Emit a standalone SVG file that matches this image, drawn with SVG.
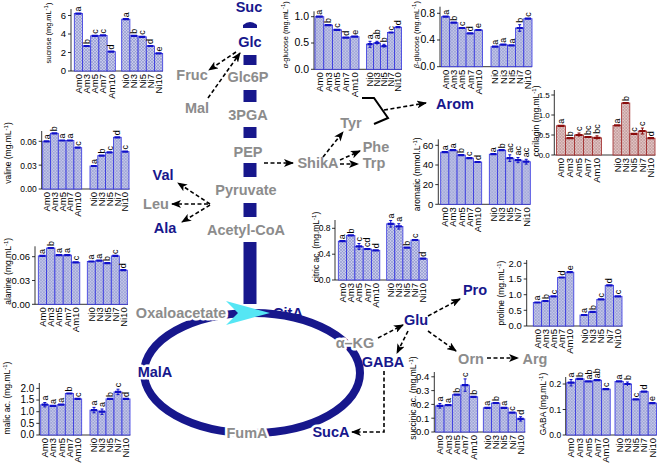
<svg xmlns="http://www.w3.org/2000/svg" width="660" height="464" viewBox="0 0 660 464">
<defs>
<pattern id="hb" width="3" height="3" patternUnits="userSpaceOnUse"><rect width="3" height="3" fill="#c6c9e9"/><path d="M0,0L3,3M3,0L0,3" stroke="#8088c8" stroke-width="0.5"/></pattern>
<pattern id="hr" width="3" height="3" patternUnits="userSpaceOnUse"><rect width="3" height="3" fill="#e2c6c6"/><path d="M0,0L3,3M3,0L0,3" stroke="#b08080" stroke-width="0.5"/></pattern>
<marker id="ah" viewBox="0 0 10 8" refX="9" refY="4" markerWidth="10" markerHeight="8" markerUnits="userSpaceOnUse" orient="auto"><path d="M0,0L10,4L0,8L2.5,4z" fill="#000"/></marker>
</defs>
<style>
text{font-family:"Liberation Sans",Arial,sans-serif}
.ax{stroke:#000;stroke-width:0.8;fill:none}
.bar{fill:url(#hb);stroke:#3434e0;stroke-width:0.8}
.rbar{fill:url(#hr);stroke:#a02828;stroke-width:0.8}
.cap{stroke:#1010c8;stroke-width:2.2;fill:none}
.rcap{stroke:#8a0c0c;stroke-width:2.2;fill:none}
.eb{stroke:#1010c8;stroke-width:1;fill:none}
.reb{stroke:#8a0c0c;stroke-width:1;fill:none}
.tk{font-size:9.5px;text-anchor:end}
#chart-citric .tk,#chart-gaba .tk,#chart-valine .tk{font-size:8.5px}
#chart-corilagin .tk{font-size:8px}
#chart-aglucose .tk,#chart-bglucose .tk{font-size:10.5px}
#chart-malic .tk{font-size:10px}
.xl{font-size:9.5px;text-anchor:end}
.lt{font-size:9px}
.yl{font-size:8.5px;text-anchor:middle}
.ys{font-size:7.4px}
.sup{font-size:6px}
.pb{font-size:14.5px;font-weight:bold;fill:#17178c;text-anchor:middle}
.pg{font-size:14.5px;font-weight:bold;fill:#8c8c8c;text-anchor:middle}
.halo{stroke:#fff;stroke-width:5;paint-order:stroke;stroke-linejoin:round}
.dash{stroke:#000;stroke-width:1.6;stroke-dasharray:4 2.5;fill:none;marker-end:url(#ah)}
.nv{fill:#17178c}
</style>

<!-- pathway backbone -->
<g id="backbone">
<path class="nv" d="M243,28V25Q250,19 257,25V28Z"/>
<rect class="nv" x="243.5" y="55" width="13" height="10"/>
<rect class="nv" x="243.5" y="90" width="13" height="12"/>
<rect class="nv" x="243.5" y="127" width="13" height="11"/>
<rect class="nv" x="243.5" y="163" width="13" height="14"/>
<rect class="nv" x="243.5" y="203" width="13" height="14"/>
<rect class="nv" x="243.5" y="242" width="13" height="62"/>
<ellipse cx="252" cy="373" rx="108" ry="60" fill="none" stroke="#17178c" stroke-width="8"/>
<path d="M226,301L270,313L226,325L238,313Z" fill="#55e6f4"/>
</g>

<g id="connectors">
<path class="dash" d="M236,52L209,70"/>
<path class="dash" d="M208,98L240,53"/>
<path class="dash" d="M264,163L293,163"/>
<path class="dash" d="M323,157L343,132"/>
<path class="dash" d="M340,160L360,151"/>
<path class="dash" d="M340,164L358,164"/>
<path class="dash" d="M210,204L178,183"/>
<path class="dash" d="M208,204L172,204"/>
<path class="dash" d="M210,205L182,222"/>
<path d="M362,98L374,98L388,118L374,124" fill="none" stroke="#000" stroke-width="2"/>
<path class="dash" d="M384,110L426,103"/>
<path class="dash" d="M378,338L403,325"/>
<path class="dash" d="M428,316L460,299"/>
<path class="dash" d="M408,331L397,353"/>
<path class="dash" d="M428,331L456,351"/>
<path class="dash" d="M487,358L518,358"/>
<path class="dash" d="M384,371V432H352"/>
</g>

<g id="labels">
<text class="pb" x="249" y="12">Suc</text>
<text class="pb" x="250" y="47">Glc</text>
<text class="pg" x="248" y="82">Glc6P</text>
<text class="pg" x="248" y="120">3PGA</text>
<text class="pg" x="248" y="157">PEP</text>
<text class="pg" x="246" y="195">Pyruvate</text>
<text class="pg" x="246" y="235">Acetyl-CoA</text>
<text class="pg" x="192" y="80">Fruc</text>
<text class="pg" x="197" y="113">Mal</text>
<text class="pg" x="318" y="168">ShikA</text>
<text class="pg" x="351" y="128">Tyr</text>
<text class="pg" x="376" y="152">Phe</text>
<text class="pg" x="374" y="168">Trp</text>
<text class="pb" x="455" y="109">Arom</text>
<text class="pb" x="163" y="180">Val</text>
<text class="pg" x="156" y="209">Leu</text>
<text class="pb" x="165" y="233">Ala</text>
<text class="pg halo" x="181" y="318">Oxaloacetate</text>
<text class="pb" x="288" y="318">CitA</text>
<text class="pb halo" x="155" y="377">MalA</text>
<text class="pg halo" x="247" y="438">FumA</text>
<text class="pb halo" x="331" y="437">SucA</text>
<text class="pg halo" x="355" y="348">α–KG</text>
<text class="pb" x="416" y="325">Glu</text>
<text class="pb" x="475" y="295">Pro</text>
<text class="pb" x="383" y="367">GABA</text>
<text class="pg" x="471" y="364">Orn</text>
<text class="pg" x="535" y="364">Arg</text>
</g>

<!-- sucrose -->
<g id="chart-sucrose" transform="translate(71,71)">
<path class="ax" d="M0,0V-62M-3,0H0M-3,-18.5H0M-3,-37H0M-3,-55.5H0M0,0H92"/>
<text class="tk" x="-5" y="3.3">0</text><text class="tk" x="-5" y="-15.2">2</text><text class="tk" x="-5" y="-33.7">4</text><text class="tk" x="-5" y="-52.2">6</text>
<text class="yl ys" transform="translate(-20,-38) rotate(-90)">sucrose (mg.mL<tspan class="sup" dy="-3">-1</tspan><tspan dy="3">)</tspan></text>
<rect class="bar" x="3.3" y="-57.4" width="8.2" height="57.4"/><rect class="bar" x="11.5" y="-25" width="8.2" height="25"/><rect class="bar" x="19.7" y="-35.2" width="8.2" height="35.2"/><rect class="bar" x="27.9" y="-35.6" width="8.2" height="35.6"/><rect class="bar" x="36.1" y="-19.4" width="8.2" height="19.4"/>
<rect class="bar" x="50.7" y="-51.8" width="8.2" height="51.8"/><rect class="bar" x="58.9" y="-35.2" width="8.2" height="35.2"/><rect class="bar" x="67.1" y="-34.2" width="8.2" height="34.2"/><rect class="bar" x="75.3" y="-25" width="8.2" height="25"/><rect class="bar" x="83.5" y="-17.6" width="8.2" height="17.6"/>
<path class="cap" d="M4.3,-57.4h6.2M12.5,-25h6.2M20.7,-35.2h6.2M28.9,-35.6h6.2M37.1,-19.4h6.2M51.7,-51.8h6.2M59.9,-35.2h6.2M68.1,-34.2h6.2M76.3,-25h6.2M84.5,-17.6h6.2"/>
<text class="lt" transform="translate(10.4,-59.5) rotate(-90)">a</text><text class="lt" transform="translate(18.6,-27) rotate(-90)">b</text><text class="lt" transform="translate(26.8,-37.2) rotate(-90)">c</text><text class="lt" transform="translate(35,-37.6) rotate(-90)">c</text><text class="lt" transform="translate(43.2,-21.4) rotate(-90)">d</text>
<text class="lt" transform="translate(57.8,-53.8) rotate(-90)">a</text><text class="lt" transform="translate(66,-37.2) rotate(-90)">b</text><text class="lt" transform="translate(74.2,-36.2) rotate(-90)">c</text><text class="lt" transform="translate(82.4,-27) rotate(-90)">d</text><text class="lt" transform="translate(90.6,-19.6) rotate(-90)">e</text>
<text class="xl" transform="translate(10.7,3) rotate(-90)">Am0</text><text class="xl" transform="translate(18.9,3) rotate(-90)">Am3</text><text class="xl" transform="translate(27.1,3) rotate(-90)">Am5</text><text class="xl" transform="translate(35.3,3) rotate(-90)">Am7</text><text class="xl" transform="translate(43.5,3) rotate(-90)">Am10</text>
<text class="xl" transform="translate(58.1,3) rotate(-90)">Ni0</text><text class="xl" transform="translate(66.3,3) rotate(-90)">Ni3</text><text class="xl" transform="translate(74.5,3) rotate(-90)">Ni5</text><text class="xl" transform="translate(82.7,3) rotate(-90)">Ni7</text><text class="xl" transform="translate(90.9,3) rotate(-90)">Ni10</text>
</g>

<!-- alpha-glucose -->
<g id="chart-aglucose" transform="translate(314,69.3)">
<path class="ax" d="M0,0V-58M-3,0H0M-3,-26.3H0M-3,-52.6H0M0,0H88"/>
<text class="tk" x="-5" y="3.3">0.0</text><text class="tk" x="-5" y="-23">0.5</text><text class="tk" x="-5" y="-49.3">1.0</text>
<text class="yl ys" transform="translate(-26,-34.5) rotate(-90)"><tspan font-style="italic">α</tspan>-glucose (mg.mL<tspan class="sup" dy="-3">-1</tspan><tspan dy="3">)</tspan></text>
<rect class="bar" x="1" y="-52.6" width="8.8" height="52.6"/><rect class="bar" x="9.8" y="-44.2" width="8.8" height="44.2"/><rect class="bar" x="18.6" y="-39.5" width="8.8" height="39.5"/><rect class="bar" x="27.4" y="-31.6" width="8.8" height="31.6"/><rect class="bar" x="36.2" y="-32.6" width="8.8" height="32.6"/>
<rect class="bar" x="52.5" y="-25.2" width="7" height="25.2"/><rect class="bar" x="59.5" y="-26.3" width="7" height="26.3"/><rect class="bar" x="66.5" y="-23.1" width="7" height="23.1"/><rect class="bar" x="73.5" y="-36.8" width="7" height="36.8"/><rect class="bar" x="80.5" y="-42.1" width="7" height="42.1"/>
<path class="cap" d="M2,-52.6h6.8M10.8,-44.2h6.8M19.6,-39.5h6.8M28.4,-31.6h6.8M37.2,-32.6h6.8M53.5,-25.2h5M60.5,-26.3h5M67.5,-23.1h5M74.5,-36.8h5M81.5,-42.1h5"/>
<path class="eb" d="M56,-28v6M54.5,-28h3M54.5,-22h3M63,-28v3.5M61.5,-28h3M70,-25v3.5M68.5,-25h3"/>
<text class="lt" transform="translate(8.4,-54.6) rotate(-90)">a</text><text class="lt" transform="translate(17.2,-46.2) rotate(-90)">b</text><text class="lt" transform="translate(26,-41.5) rotate(-90)">c</text><text class="lt" transform="translate(34.8,-33.6) rotate(-90)">d</text><text class="lt" transform="translate(43.6,-34.6) rotate(-90)">e</text>
<text class="lt" transform="translate(59,-30) rotate(-90)">a</text><text class="lt" transform="translate(66,-30) rotate(-90)">ab</text><text class="lt" transform="translate(73,-27) rotate(-90)">b</text><text class="lt" transform="translate(80,-38.8) rotate(-90)">c</text><text class="lt" transform="translate(87,-44.1) rotate(-90)">d</text>
<text class="xl" transform="translate(8.7,3) rotate(-90)">Am0</text><text class="xl" transform="translate(17.5,3) rotate(-90)">Am3</text><text class="xl" transform="translate(26.3,3) rotate(-90)">Am5</text><text class="xl" transform="translate(35.1,3) rotate(-90)">Am7</text><text class="xl" transform="translate(43.9,3) rotate(-90)">Am10</text>
<text class="xl" transform="translate(59.3,3) rotate(-90)">Ni0</text><text class="xl" transform="translate(66.3,3) rotate(-90)">Ni3</text><text class="xl" transform="translate(73.3,3) rotate(-90)">Ni5</text><text class="xl" transform="translate(80.3,3) rotate(-90)">Ni7</text><text class="xl" transform="translate(87.3,3) rotate(-90)">Ni10</text>
</g>

<!-- beta-glucose -->
<g id="chart-bglucose" transform="translate(440,66.7)">
<path class="ax" d="M0,0V-60M-3,0H0M-3,-26.7H0M-3,-53.4H0M0,0H92"/>
<text class="tk" x="-5" y="3.3">0.0</text><text class="tk" x="-5" y="-23.4">0.4</text><text class="tk" x="-5" y="-50.1">0.8</text>
<text class="yl ys" transform="translate(-21,-32) rotate(-90)"><tspan font-style="italic">β</tspan>-glucose (mg.mL<tspan class="sup" dy="-3">-1</tspan><tspan dy="3">)</tspan></text>
<rect class="bar" x="1.5" y="-50" width="8.2" height="50"/><rect class="bar" x="9.7" y="-44" width="8.2" height="44"/><rect class="bar" x="17.9" y="-38.7" width="8.2" height="38.7"/><rect class="bar" x="26.1" y="-33.4" width="8.2" height="33.4"/><rect class="bar" x="34.3" y="-36.7" width="8.2" height="36.7"/>
<rect class="bar" x="51" y="-20" width="8.2" height="20"/><rect class="bar" x="59.2" y="-22" width="8.2" height="22"/><rect class="bar" x="67.4" y="-21.3" width="8.2" height="21.3"/><rect class="bar" x="75.6" y="-38.7" width="8.2" height="38.7"/><rect class="bar" x="83.8" y="-48" width="8.2" height="48"/>
<path class="cap" d="M2.5,-50h6.2M10.7,-44h6.2M18.9,-38.7h6.2M27.1,-33.4h6.2M35.3,-36.7h6.2M52,-20h6.2M60.2,-22h6.2M68.4,-21.3h6.2M76.6,-38.7h6.2M84.8,-48h6.2"/>
<path class="eb" d="M79.7,-42v6.6M78.2,-42h3M78.2,-35.4h3"/>
<text class="lt" transform="translate(8.6,-52) rotate(-90)">a</text><text class="lt" transform="translate(16.8,-46) rotate(-90)">b</text><text class="lt" transform="translate(25,-40.7) rotate(-90)">c</text><text class="lt" transform="translate(33.2,-35.4) rotate(-90)">d</text><text class="lt" transform="translate(41.4,-38.7) rotate(-90)">e</text>
<text class="lt" transform="translate(58.1,-22) rotate(-90)">a</text><text class="lt" transform="translate(66.3,-24) rotate(-90)">a</text><text class="lt" transform="translate(74.5,-23.3) rotate(-90)">a</text><text class="lt" transform="translate(82.7,-44) rotate(-90)">b</text><text class="lt" transform="translate(90.9,-50) rotate(-90)">c</text>
<text class="xl" transform="translate(8.9,3) rotate(-90)">Am0</text><text class="xl" transform="translate(17.1,3) rotate(-90)">Am3</text><text class="xl" transform="translate(25.3,3) rotate(-90)">Am5</text><text class="xl" transform="translate(33.5,3) rotate(-90)">Am7</text><text class="xl" transform="translate(41.7,3) rotate(-90)">Am10</text>
<text class="xl" transform="translate(58.4,3) rotate(-90)">Ni0</text><text class="xl" transform="translate(66.6,3) rotate(-90)">Ni3</text><text class="xl" transform="translate(74.8,3) rotate(-90)">Ni5</text><text class="xl" transform="translate(83,3) rotate(-90)">Ni7</text><text class="xl" transform="translate(91.2,3) rotate(-90)">Ni10</text>
</g>

<!-- valine -->
<g id="chart-valine" transform="translate(41.7,189)">
<path class="ax" d="M0,0V-58M-3,0H0M-3,-23.85H0M-3,-47.7H0M0,0H88"/>
<text class="tk" x="-5" y="3.3">0.00</text><text class="tk" x="-5" y="-20.5">0.03</text><text class="tk" x="-5" y="-44.4">0.06</text>
<text class="yl" transform="translate(-30.7,-36) rotate(-90)">valine (mg.mL<tspan class="sup" dy="-3">-1</tspan><tspan dy="3">)</tspan></text>
<rect class="bar" x="1" y="-47.7" width="7.8" height="47.7"/><rect class="bar" x="8.8" y="-55.7" width="7.8" height="55.7"/><rect class="bar" x="16.6" y="-48.5" width="7.8" height="48.5"/><rect class="bar" x="24.4" y="-48.5" width="7.8" height="48.5"/><rect class="bar" x="32.2" y="-41.3" width="7.8" height="41.3"/>
<rect class="bar" x="48.3" y="-23" width="7.8" height="23"/><rect class="bar" x="56.1" y="-33.4" width="7.8" height="33.4"/><rect class="bar" x="63.9" y="-36.6" width="7.8" height="36.6"/><rect class="bar" x="71.7" y="-51.7" width="7.8" height="51.7"/><rect class="bar" x="79.5" y="-37.4" width="7.8" height="37.4"/>
<path class="cap" d="M2,-47.7h5.8M9.8,-55.7h5.8M17.6,-48.5h5.8M25.4,-48.5h5.8M33.2,-41.3h5.8M49.3,-23h5.8M57.1,-33.4h5.8M64.9,-36.6h5.8M72.7,-51.7h5.8M80.5,-37.4h5.8"/>
<text class="lt" transform="translate(7.9,-49.7) rotate(-90)">a</text><text class="lt" transform="translate(15.7,-57.7) rotate(-90)">b</text><text class="lt" transform="translate(23.5,-50.5) rotate(-90)">a</text><text class="lt" transform="translate(31.3,-50.5) rotate(-90)">a</text><text class="lt" transform="translate(39.1,-43.3) rotate(-90)">c</text>
<text class="lt" transform="translate(55.2,-25) rotate(-90)">a</text><text class="lt" transform="translate(63,-35.4) rotate(-90)">b</text><text class="lt" transform="translate(70.8,-38.6) rotate(-90)">c</text><text class="lt" transform="translate(78.6,-53.7) rotate(-90)">d</text><text class="lt" transform="translate(86.4,-39.4) rotate(-90)">c</text>
<text class="xl" transform="translate(8.2,3) rotate(-90)">Am0</text><text class="xl" transform="translate(16,3) rotate(-90)">Am3</text><text class="xl" transform="translate(23.8,3) rotate(-90)">Am5</text><text class="xl" transform="translate(31.6,3) rotate(-90)">Am7</text><text class="xl" transform="translate(39.4,3) rotate(-90)">Am10</text>
<text class="xl" transform="translate(55.5,3) rotate(-90)">Ni0</text><text class="xl" transform="translate(63.3,3) rotate(-90)">Ni3</text><text class="xl" transform="translate(71.1,3) rotate(-90)">Ni5</text><text class="xl" transform="translate(78.9,3) rotate(-90)">Ni7</text><text class="xl" transform="translate(86.7,3) rotate(-90)">Ni10</text>
</g>

<!-- alanine -->
<g id="chart-alanine" transform="translate(35,304.3)">
<path class="ax" d="M0,0V-58M-3,0H0M-3,-23.8H0M-3,-47.6H0M0,0H93"/>
<text class="tk" x="-5" y="3.3">0.00</text><text class="tk" x="-5" y="-20.5">0.03</text><text class="tk" x="-5" y="-44.3">0.06</text>
<text class="yl" transform="translate(-24,-33) rotate(-90)">alanine (mg.mL<tspan class="sup" dy="-3">-1</tspan><tspan dy="3">)</tspan></text>
<rect class="bar" x="3.3" y="-48.4" width="8.3" height="48.4"/><rect class="bar" x="11.6" y="-56.3" width="8.3" height="56.3"/><rect class="bar" x="19.9" y="-49.2" width="8.3" height="49.2"/><rect class="bar" x="28.2" y="-49.2" width="8.3" height="49.2"/><rect class="bar" x="36.5" y="-42" width="8.3" height="42"/>
<rect class="bar" x="52.3" y="-42.8" width="8" height="42.8"/><rect class="bar" x="60.3" y="-43.6" width="8" height="43.6"/><rect class="bar" x="68.3" y="-41.2" width="8" height="41.2"/><rect class="bar" x="76.3" y="-48.4" width="8" height="48.4"/><rect class="bar" x="84.3" y="-34.1" width="8" height="34.1"/>
<path class="cap" d="M4.3,-48.4h6.3M12.6,-56.3h6.3M20.9,-49.2h6.3M29.2,-49.2h6.3M37.5,-42h6.3M53.3,-42.8h6M61.3,-43.6h6M69.3,-41.2h6M77.3,-48.4h6M85.3,-34.1h6"/>
<text class="lt" transform="translate(10.4,-50.4) rotate(-90)">a</text><text class="lt" transform="translate(18.7,-58.3) rotate(-90)">b</text><text class="lt" transform="translate(27,-51.2) rotate(-90)">a</text><text class="lt" transform="translate(35.3,-51.2) rotate(-90)">a</text><text class="lt" transform="translate(43.6,-44) rotate(-90)">c</text>
<text class="lt" transform="translate(59.3,-44.8) rotate(-90)">a</text><text class="lt" transform="translate(67.3,-45.6) rotate(-90)">a</text><text class="lt" transform="translate(75.3,-43.2) rotate(-90)">b</text><text class="lt" transform="translate(83.3,-50.4) rotate(-90)">c</text><text class="lt" transform="translate(91.3,-36.1) rotate(-90)">d</text>
<text class="xl" transform="translate(10.7,3) rotate(-90)">Am0</text><text class="xl" transform="translate(19,3) rotate(-90)">Am3</text><text class="xl" transform="translate(27.3,3) rotate(-90)">Am5</text><text class="xl" transform="translate(35.6,3) rotate(-90)">Am7</text><text class="xl" transform="translate(43.9,3) rotate(-90)">Am10</text>
<text class="xl" transform="translate(59.6,3) rotate(-90)">Ni0</text><text class="xl" transform="translate(67.6,3) rotate(-90)">Ni3</text><text class="xl" transform="translate(75.6,3) rotate(-90)">Ni5</text><text class="xl" transform="translate(83.6,3) rotate(-90)">Ni7</text><text class="xl" transform="translate(91.6,3) rotate(-90)">Ni10</text>
</g>

<!-- malic -->
<g id="chart-malic" transform="translate(39.3,435)">
<path class="ax" d="M0,0V-52M-3,0H0M-3,-11.65H0M-3,-23.3H0M-3,-34.95H0M-3,-46.6H0M0,0H91"/>
<text class="tk" x="-5" y="3.3">0.0</text><text class="tk" x="-5" y="-8.3">0.5</text><text class="tk" x="-5" y="-20">1.0</text><text class="tk" x="-5" y="-31.6">1.5</text><text class="tk" x="-5" y="-43.3">2.0</text>
<text class="yl" transform="translate(-29.3,-37) rotate(-90)">malic ac. (mg.mL<tspan class="sup" dy="-3">-1</tspan><tspan dy="3">)</tspan></text>
<rect class="bar" x="1.4" y="-30.3" width="8.2" height="30.3"/><rect class="bar" x="9.6" y="-29.1" width="8.2" height="29.1"/><rect class="bar" x="17.8" y="-30.3" width="8.2" height="30.3"/><rect class="bar" x="26" y="-41.5" width="8.2" height="41.5"/><rect class="bar" x="34.2" y="-36.1" width="8.2" height="36.1"/>
<rect class="bar" x="50.7" y="-24.9" width="8" height="24.9"/><rect class="bar" x="58.7" y="-23.3" width="8" height="23.3"/><rect class="bar" x="66.7" y="-36.1" width="8" height="36.1"/><rect class="bar" x="74.7" y="-43.1" width="8" height="43.1"/><rect class="bar" x="82.7" y="-36.1" width="8" height="36.1"/>
<path class="cap" d="M2.4,-30.3h6.2M10.6,-29.1h6.2M18.8,-30.3h6.2M27,-41.5h6.2M35.2,-36.1h6.2M51.7,-24.9h6M59.7,-23.3h6M67.7,-36.1h6M75.7,-43.1h6M83.7,-36.1h6"/>
<path class="eb" d="M5.5,-32.5v4.4M4,-32.5h3M4,-28.1h3M54.7,-27.6v5.4M53.2,-27.6h3M53.2,-22.2h3M62.7,-26v5.4M61.2,-26h3M61.2,-20.6h3M78.7,-45.8v5.4M77.2,-45.8h3M77.2,-40.4h3"/>
<text class="lt" transform="translate(8.5,-34.5) rotate(-90)">a</text><text class="lt" transform="translate(16.7,-31.1) rotate(-90)">a</text><text class="lt" transform="translate(24.9,-32.3) rotate(-90)">a</text><text class="lt" transform="translate(33.1,-43.5) rotate(-90)">b</text><text class="lt" transform="translate(41.3,-38.1) rotate(-90)">c</text>
<text class="lt" transform="translate(57.7,-29.6) rotate(-90)">a</text><text class="lt" transform="translate(65.7,-28) rotate(-90)">a</text><text class="lt" transform="translate(73.7,-38.1) rotate(-90)">b</text><text class="lt" transform="translate(81.7,-47.8) rotate(-90)">c</text><text class="lt" transform="translate(89.7,-38.1) rotate(-90)">d</text>
<text class="xl" transform="translate(8.8,3) rotate(-90)">Am0</text><text class="xl" transform="translate(17,3) rotate(-90)">Am3</text><text class="xl" transform="translate(25.2,3) rotate(-90)">Am5</text><text class="xl" transform="translate(33.4,3) rotate(-90)">Am7</text><text class="xl" transform="translate(41.6,3) rotate(-90)">Am10</text>
<text class="xl" transform="translate(58,3) rotate(-90)">Ni0</text><text class="xl" transform="translate(66,3) rotate(-90)">Ni3</text><text class="xl" transform="translate(74,3) rotate(-90)">Ni5</text><text class="xl" transform="translate(82,3) rotate(-90)">Ni7</text><text class="xl" transform="translate(90,3) rotate(-90)">Ni10</text>
</g>

<!-- aromatic -->
<g id="chart-aromatic" transform="translate(438.3,204.3)">
<path class="ax" d="M0,0V-65M-3,0H0M-3,-19.7H0M-3,-39.3H0M-3,-59H0M0,0H92"/>
<text class="tk" x="-5" y="3.3">0</text><text class="tk" x="-5" y="-16.4">20</text><text class="tk" x="-5" y="-36">40</text><text class="tk" x="-5" y="-55.7">60</text>
<text class="yl" transform="translate(-18.3,-30) rotate(-90)">aromatic (mmol.L<tspan class="sup" dy="-3">-1</tspan><tspan dy="3">)</tspan></text>
<rect class="bar" x="2.4" y="-52.1" width="8.2" height="52.1"/><rect class="bar" x="10.6" y="-54.1" width="8.2" height="54.1"/><rect class="bar" x="18.8" y="-49.2" width="8.2" height="49.2"/><rect class="bar" x="27" y="-46.2" width="8.2" height="46.2"/><rect class="bar" x="35.2" y="-42.3" width="8.2" height="42.3"/>
<rect class="bar" x="51" y="-50.1" width="8.2" height="50.1"/><rect class="bar" x="59.2" y="-54.1" width="8.2" height="54.1"/><rect class="bar" x="67.4" y="-46.2" width="8.2" height="46.2"/><rect class="bar" x="75.6" y="-44.2" width="8.2" height="44.2"/><rect class="bar" x="83.8" y="-42.6" width="8.2" height="42.6"/>
<path class="cap" d="M3.4,-52.1h6.2M11.6,-54.1h6.2M19.8,-49.2h6.2M28,-46.2h6.2M36.2,-42.3h6.2M52,-50.1h6.2M60.2,-54.1h6.2M68.4,-46.2h6.2M76.6,-44.2h6.2M84.8,-42.6h6.2"/>
<path class="eb" d="M71.5,-49.5v6.6M70,-49.5h3M70,-42.9h3M79.7,-46.8v5.2M78.2,-46.8h3M78.2,-41.6h3M87.9,-45v4.8M86.4,-45h3M86.4,-40.2h3"/>
<text class="lt" transform="translate(9.5,-54.1) rotate(-90)">a</text><text class="lt" transform="translate(17.7,-56.1) rotate(-90)">a</text><text class="lt" transform="translate(25.9,-51.2) rotate(-90)">b</text><text class="lt" transform="translate(34.1,-48.2) rotate(-90)">c</text><text class="lt" transform="translate(42.3,-44.3) rotate(-90)">d</text>
<text class="lt" transform="translate(58.1,-52.1) rotate(-90)">a</text><text class="lt" transform="translate(66.3,-56.1) rotate(-90)">b</text><text class="lt" transform="translate(74.5,-51.5) rotate(-90)">ac</text><text class="lt" transform="translate(82.7,-48.8) rotate(-90)">ac</text><text class="lt" transform="translate(90.9,-47) rotate(-90)">ac</text>
<text class="xl" transform="translate(9.8,3) rotate(-90)">Am0</text><text class="xl" transform="translate(18,3) rotate(-90)">Am3</text><text class="xl" transform="translate(26.2,3) rotate(-90)">Am5</text><text class="xl" transform="translate(34.4,3) rotate(-90)">Am7</text><text class="xl" transform="translate(42.6,3) rotate(-90)">Am10</text>
<text class="xl" transform="translate(58.4,3) rotate(-90)">Ni0</text><text class="xl" transform="translate(66.6,3) rotate(-90)">Ni3</text><text class="xl" transform="translate(74.8,3) rotate(-90)">Ni5</text><text class="xl" transform="translate(83,3) rotate(-90)">Ni7</text><text class="xl" transform="translate(91.2,3) rotate(-90)">Ni10</text>
</g>

<!-- corilagin -->
<g id="chart-corilagin" transform="translate(554.3,155)">
<path class="ax" d="M0,0V-65M-3,0H0M-3,-20H0M-3,-40H0M-3,-60H0M0,0H101"/>
<text class="tk" x="-4.5" y="3">0.0</text><text class="tk" x="-4.5" y="-17">0.5</text><text class="tk" x="-4.5" y="-37">1.0</text><text class="tk" x="-4.5" y="-57">1.5</text>
<text class="yl" transform="translate(-15,-34) rotate(-90)">corilagin (mg.mL<tspan class="sup" dy="-3">-1</tspan><tspan dy="3">)</tspan></text>
<rect class="rbar" x="2.2" y="-29.2" width="9" height="29.2"/><rect class="rbar" x="11.2" y="-16.8" width="9" height="16.8"/><rect class="rbar" x="20.2" y="-20" width="9" height="20"/><rect class="rbar" x="29.2" y="-18" width="9" height="18"/><rect class="rbar" x="38.2" y="-17.2" width="9" height="17.2"/>
<rect class="rbar" x="58.7" y="-29.6" width="8.4" height="29.6"/><rect class="rbar" x="67.1" y="-52" width="8.4" height="52"/><rect class="rbar" x="75.5" y="-21.2" width="8.4" height="21.2"/><rect class="rbar" x="83.9" y="-24" width="8.4" height="24"/><rect class="rbar" x="92.3" y="-16.8" width="8.4" height="16.8"/>
<path class="rcap" d="M3.2,-29.2h7M12.2,-16.8h7M21.2,-20h7M30.2,-18h7M39.2,-17.2h7M59.7,-29.6h6.4M68.1,-52h6.4M76.5,-21.2h6.4M84.9,-24h6.4M93.3,-16.8h6.4"/>
<path class="reb" d="M88.1,-27v6M86.6,-27h3M86.6,-21h3M24.7,-22v4M23.2,-22h3M42.7,-19.2v4M41.2,-19.2h3"/>
<text class="lt" transform="translate(9.7,-31.2) rotate(-90)">a</text><text class="lt" transform="translate(18.7,-18.8) rotate(-90)">b</text><text class="lt" transform="translate(27.7,-24) rotate(-90)">c</text><text class="lt" transform="translate(36.7,-20) rotate(-90)">bc</text><text class="lt" transform="translate(45.7,-21.2) rotate(-90)">bc</text>
<text class="lt" transform="translate(65.9,-31.6) rotate(-90)">a</text><text class="lt" transform="translate(74.3,-54) rotate(-90)">b</text><text class="lt" transform="translate(82.7,-23.2) rotate(-90)">c</text><text class="lt" transform="translate(91.1,-29) rotate(-90)">c</text><text class="lt" transform="translate(99.5,-18.8) rotate(-90)">d</text>
<text class="xl" transform="translate(10,3) rotate(-90)">Am0</text><text class="xl" transform="translate(19,3) rotate(-90)">Am3</text><text class="xl" transform="translate(28,3) rotate(-90)">Am5</text><text class="xl" transform="translate(37,3) rotate(-90)">Am7</text><text class="xl" transform="translate(46,3) rotate(-90)">Am10</text>
<text class="xl" transform="translate(66.2,3) rotate(-90)">Ni0</text><text class="xl" transform="translate(74.6,3) rotate(-90)">Ni3</text><text class="xl" transform="translate(83,3) rotate(-90)">Ni5</text><text class="xl" transform="translate(91.4,3) rotate(-90)">Ni7</text><text class="xl" transform="translate(99.8,3) rotate(-90)">Ni10</text>
</g>

<!-- citric -->
<g id="chart-citric" transform="translate(335,280)">
<path class="ax" d="M0,0V-60M-3,0H0M-3,-25.8H0M-3,-51.7H0M0,0H93"/>
<text class="tk" x="-4.5" y="3">0.0</text><text class="tk" x="-4.5" y="-22.8">0.4</text><text class="tk" x="-4.5" y="-48.7">0.8</text>
<text class="yl" transform="translate(-16,-33) rotate(-90)">citric ac. (mg.mL<tspan class="sup" dy="-3">-1</tspan><tspan dy="3">)</tspan></text>
<rect class="bar" x="3.3" y="-38.8" width="8.3" height="38.8"/><rect class="bar" x="11.6" y="-44.6" width="8.3" height="44.6"/><rect class="bar" x="19.9" y="-33.6" width="8.3" height="33.6"/><rect class="bar" x="28.2" y="-31" width="8.3" height="31"/><rect class="bar" x="36.5" y="-29.7" width="8.3" height="29.7"/>
<rect class="bar" x="51.7" y="-56.2" width="8.1" height="56.2"/><rect class="bar" x="59.8" y="-53.6" width="8.1" height="53.6"/><rect class="bar" x="67.9" y="-32.3" width="8.1" height="32.3"/><rect class="bar" x="76" y="-40" width="8.1" height="40"/><rect class="bar" x="84.1" y="-21.3" width="8.1" height="21.3"/>
<path class="cap" d="M4.3,-38.8h6.3M12.6,-44.6h6.3M20.9,-33.6h6.3M29.2,-31h6.3M37.5,-29.7h6.3M52.7,-56.2h6.1M60.8,-53.6h6.1M68.9,-32.3h6.1M77,-40h6.1M85.1,-21.3h6.1"/>
<path class="eb" d="M24.05,-36.5v5.8M22.5,-36.5h3M22.5,-30.7h3M55.75,-59.5v6.6M54.2,-59.5h3M54.2,-52.9h3M63.85,-56.3v5.4M62.3,-56.3h3M62.3,-50.9h3"/>
<text class="lt" transform="translate(10.4,-40.8) rotate(-90)">a</text><text class="lt" transform="translate(18.7,-46.6) rotate(-90)">b</text><text class="lt" transform="translate(27,-38.5) rotate(-90)">c</text><text class="lt" transform="translate(35.3,-33) rotate(-90)">cd</text><text class="lt" transform="translate(43.6,-31.7) rotate(-90)">d</text>
<text class="lt" transform="translate(58.7,-61.5) rotate(-90)">a</text><text class="lt" transform="translate(66.8,-58.3) rotate(-90)">a</text><text class="lt" transform="translate(74.9,-34.3) rotate(-90)">b</text><text class="lt" transform="translate(83,-42) rotate(-90)">c</text><text class="lt" transform="translate(91.1,-23.3) rotate(-90)">d</text>
<text class="xl" transform="translate(10.7,3) rotate(-90)">Am0</text><text class="xl" transform="translate(19,3) rotate(-90)">Am3</text><text class="xl" transform="translate(27.3,3) rotate(-90)">Am5</text><text class="xl" transform="translate(35.6,3) rotate(-90)">Am7</text><text class="xl" transform="translate(43.9,3) rotate(-90)">Am10</text>
<text class="xl" transform="translate(59,3) rotate(-90)">Ni0</text><text class="xl" transform="translate(67.1,3) rotate(-90)">Ni3</text><text class="xl" transform="translate(75.2,3) rotate(-90)">Ni5</text><text class="xl" transform="translate(83.3,3) rotate(-90)">Ni7</text><text class="xl" transform="translate(91.4,3) rotate(-90)">Ni10</text>
</g>

<!-- proline -->
<g id="chart-proline" transform="translate(526.7,326)">
<path class="ax" d="M0,0V-66M-3,0H0M-3,-15.7H0M-3,-31.3H0M-3,-47H0M-3,-62.7H0M0,0H96"/>
<text class="tk" x="-5" y="3.3">0.0</text><text class="tk" x="-5" y="-12.4">0.5</text><text class="tk" x="-5" y="-28">1.0</text><text class="tk" x="-5" y="-43.7">1.5</text><text class="tk" x="-5" y="-59.4">2.0</text>
<text class="yl" transform="translate(-22.7,-33) rotate(-90)">proline (mg.mL<tspan class="sup" dy="-3">-1</tspan><tspan dy="3">)</tspan></text>
<rect class="bar" x="6.6" y="-23.5" width="8.1" height="23.5"/><rect class="bar" x="14.7" y="-25" width="8.1" height="25"/><rect class="bar" x="22.8" y="-29.7" width="8.1" height="29.7"/><rect class="bar" x="30.9" y="-48.5" width="8.1" height="48.5"/><rect class="bar" x="39" y="-53.8" width="8.1" height="53.8"/>
<rect class="bar" x="53.3" y="-11" width="8.4" height="11"/><rect class="bar" x="61.7" y="-14.1" width="8.4" height="14.1"/><rect class="bar" x="70.1" y="-26.6" width="8.4" height="26.6"/><rect class="bar" x="78.5" y="-40.7" width="8.4" height="40.7"/><rect class="bar" x="86.9" y="-29.7" width="8.4" height="29.7"/>
<path class="cap" d="M7.6,-23.5h6.1M15.7,-25h6.1M23.8,-29.7h6.1M31.9,-48.5h6.1M40,-53.8h6.1M54.3,-11h6.4M62.7,-14.1h6.4M71.1,-26.6h6.4M79.5,-40.7h6.4M87.9,-29.7h6.4"/>
<text class="lt" transform="translate(13.7,-25.5) rotate(-90)">a</text><text class="lt" transform="translate(21.8,-27) rotate(-90)">b</text><text class="lt" transform="translate(29.9,-31.7) rotate(-90)">c</text><text class="lt" transform="translate(38,-50.5) rotate(-90)">d</text><text class="lt" transform="translate(46.1,-55.8) rotate(-90)">e</text>
<text class="lt" transform="translate(60.5,-13) rotate(-90)">a</text><text class="lt" transform="translate(68.9,-16.1) rotate(-90)">b</text><text class="lt" transform="translate(77.3,-28.6) rotate(-90)">c</text><text class="lt" transform="translate(85.7,-42.7) rotate(-90)">d</text><text class="lt" transform="translate(94.1,-31.7) rotate(-90)">c</text>
<text class="xl" transform="translate(14,3) rotate(-90)">Am0</text><text class="xl" transform="translate(22.1,3) rotate(-90)">Am3</text><text class="xl" transform="translate(30.2,3) rotate(-90)">Am5</text><text class="xl" transform="translate(38.3,3) rotate(-90)">Am7</text><text class="xl" transform="translate(46.4,3) rotate(-90)">Am10</text>
<text class="xl" transform="translate(60.8,3) rotate(-90)">Ni0</text><text class="xl" transform="translate(69.2,3) rotate(-90)">Ni3</text><text class="xl" transform="translate(77.6,3) rotate(-90)">Ni5</text><text class="xl" transform="translate(86,3) rotate(-90)">Ni7</text><text class="xl" transform="translate(94.4,3) rotate(-90)">Ni10</text>
</g>

<!-- succinic -->
<g id="chart-succinic" transform="translate(434.3,432)">
<path class="ax" d="M0,0V-60M-3,0H0M-3,-13.8H0M-3,-27.6H0M-3,-41.4H0M-3,-55.2H0M0,0H91"/>
<text class="tk" x="-5" y="3.3">0.0</text><text class="tk" x="-5" y="-10.5">0.1</text><text class="tk" x="-5" y="-24.3">0.2</text><text class="tk" x="-5" y="-38.1">0.3</text><text class="tk" x="-5" y="-51.9">0.4</text>
<text class="yl" transform="translate(-18.3,-34) rotate(-90)">succinic ac. (mg.mL<tspan class="sup" dy="-3">-1</tspan><tspan dy="3">)</tspan></text>
<rect class="bar" x="1.4" y="-26.2" width="8.4" height="26.2"/><rect class="bar" x="9.8" y="-26.9" width="8.4" height="26.9"/><rect class="bar" x="18.2" y="-37.3" width="8.4" height="37.3"/><rect class="bar" x="26.6" y="-46.9" width="8.4" height="46.9"/><rect class="bar" x="35" y="-35.2" width="8.4" height="35.2"/>
<rect class="bar" x="49" y="-24.2" width="8.3" height="24.2"/><rect class="bar" x="57.3" y="-29" width="8.3" height="29"/><rect class="bar" x="65.6" y="-24.2" width="8.3" height="24.2"/><rect class="bar" x="73.9" y="-19.3" width="8.3" height="19.3"/><rect class="bar" x="82.2" y="-13.1" width="8.3" height="13.1"/>
<path class="cap" d="M2.4,-26.2h6.4M10.8,-26.9h6.4M19.2,-37.3h6.4M27.6,-46.9h6.4M36,-35.2h6.4M50,-24.2h6.3M58.3,-29h6.3M66.6,-24.2h6.3M74.9,-19.3h6.3M83.2,-13.1h6.3"/>
<path class="eb" d="M5.6,-28.5v4.6M4.1,-28.5h3M4.1,-23.9h3M30.8,-53.1v12.4M29.3,-53.1h3M29.3,-40.7h3M86.35,-15.3v4.4M84.8,-15.3h3M84.8,-10.9h3"/>
<text class="lt" transform="translate(8.6,-30.5) rotate(-90)">a</text><text class="lt" transform="translate(17,-28.9) rotate(-90)">a</text><text class="lt" transform="translate(25.4,-39.3) rotate(-90)">b</text><text class="lt" transform="translate(33.8,-55.1) rotate(-90)">c</text><text class="lt" transform="translate(42.2,-37.2) rotate(-90)">b</text>
<text class="lt" transform="translate(56.15,-26.2) rotate(-90)">a</text><text class="lt" transform="translate(64.45,-31) rotate(-90)">b</text><text class="lt" transform="translate(72.75,-26.2) rotate(-90)">a</text><text class="lt" transform="translate(81.05,-21.3) rotate(-90)">c</text><text class="lt" transform="translate(89.35,-17.3) rotate(-90)">d</text>
<text class="xl" transform="translate(8.9,3) rotate(-90)">Am0</text><text class="xl" transform="translate(17.3,3) rotate(-90)">Am3</text><text class="xl" transform="translate(25.7,3) rotate(-90)">Am5</text><text class="xl" transform="translate(34.1,3) rotate(-90)">Am7</text><text class="xl" transform="translate(42.5,3) rotate(-90)">Am10</text>
<text class="xl" transform="translate(56.45,3) rotate(-90)">Ni0</text><text class="xl" transform="translate(64.75,3) rotate(-90)">Ni3</text><text class="xl" transform="translate(73.05,3) rotate(-90)">Ni5</text><text class="xl" transform="translate(81.35,3) rotate(-90)">Ni7</text><text class="xl" transform="translate(89.65,3) rotate(-90)">Ni10</text>
</g>

<!-- GABA -->
<g id="chart-gaba" transform="translate(565.7,435)">
<path class="ax" d="M0,0V-58M-3,0H0M-3,-25.5H0M-3,-51H0M0,0H91"/>
<text class="tk" x="-4.5" y="3">0.0</text><text class="tk" x="-4.5" y="-22.5">0.1</text><text class="tk" x="-4.5" y="-48">0.2</text>
<text class="yl" transform="translate(-19.7,-31) rotate(-90)">GABA (mg.mL<tspan class="sup" dy="-3">-1</tspan><tspan dy="3">)</tspan></text>
<rect class="bar" x="1" y="-52.3" width="8.7" height="52.3"/><rect class="bar" x="9.7" y="-56.1" width="8.7" height="56.1"/><rect class="bar" x="18.4" y="-53.6" width="8.7" height="53.6"/><rect class="bar" x="27.1" y="-54.8" width="8.7" height="54.8"/><rect class="bar" x="35.8" y="-45.9" width="8.7" height="45.9"/>
<rect class="bar" x="49.3" y="-53.6" width="8.3" height="53.6"/><rect class="bar" x="57.6" y="-51" width="8.3" height="51"/><rect class="bar" x="65.9" y="-35.7" width="8.3" height="35.7"/><rect class="bar" x="74.2" y="-43.4" width="8.3" height="43.4"/><rect class="bar" x="82.5" y="-31.9" width="8.3" height="31.9"/>
<path class="cap" d="M2,-52.3h6.7M10.7,-56.1h6.7M19.4,-53.6h6.7M28.1,-54.8h6.7M36.8,-45.9h6.7M50.3,-53.6h6.3M58.6,-51h6.3M66.9,-35.7h6.3M75.2,-43.4h6.3M83.5,-31.9h6.3"/>
<path class="eb" d="M5.35,-55.5v6.4M3.8,-55.5h3M3.8,-49.1h3M61.75,-53v4M60.2,-53h3"/>
<text class="lt" transform="translate(8.4,-57.5) rotate(-90)">a</text><text class="lt" transform="translate(17.1,-58.1) rotate(-90)">b</text><text class="lt" transform="translate(25.8,-55.6) rotate(-90)">ab</text><text class="lt" transform="translate(34.5,-56.8) rotate(-90)">ab</text><text class="lt" transform="translate(43.2,-47.9) rotate(-90)">c</text>
<text class="lt" transform="translate(56.5,-55.6) rotate(-90)">a</text><text class="lt" transform="translate(64.8,-55) rotate(-90)">b</text><text class="lt" transform="translate(73.1,-37.7) rotate(-90)">c</text><text class="lt" transform="translate(81.4,-45.4) rotate(-90)">d</text><text class="lt" transform="translate(89.7,-33.9) rotate(-90)">e</text>
<text class="xl" transform="translate(8.7,3) rotate(-90)">Am0</text><text class="xl" transform="translate(17.4,3) rotate(-90)">Am3</text><text class="xl" transform="translate(26.1,3) rotate(-90)">Am5</text><text class="xl" transform="translate(34.8,3) rotate(-90)">Am7</text><text class="xl" transform="translate(43.5,3) rotate(-90)">Am10</text>
<text class="xl" transform="translate(56.8,3) rotate(-90)">Ni0</text><text class="xl" transform="translate(65.1,3) rotate(-90)">Ni3</text><text class="xl" transform="translate(73.4,3) rotate(-90)">Ni5</text><text class="xl" transform="translate(81.7,3) rotate(-90)">Ni7</text><text class="xl" transform="translate(90,3) rotate(-90)">Ni10</text>
</g>
</svg>
